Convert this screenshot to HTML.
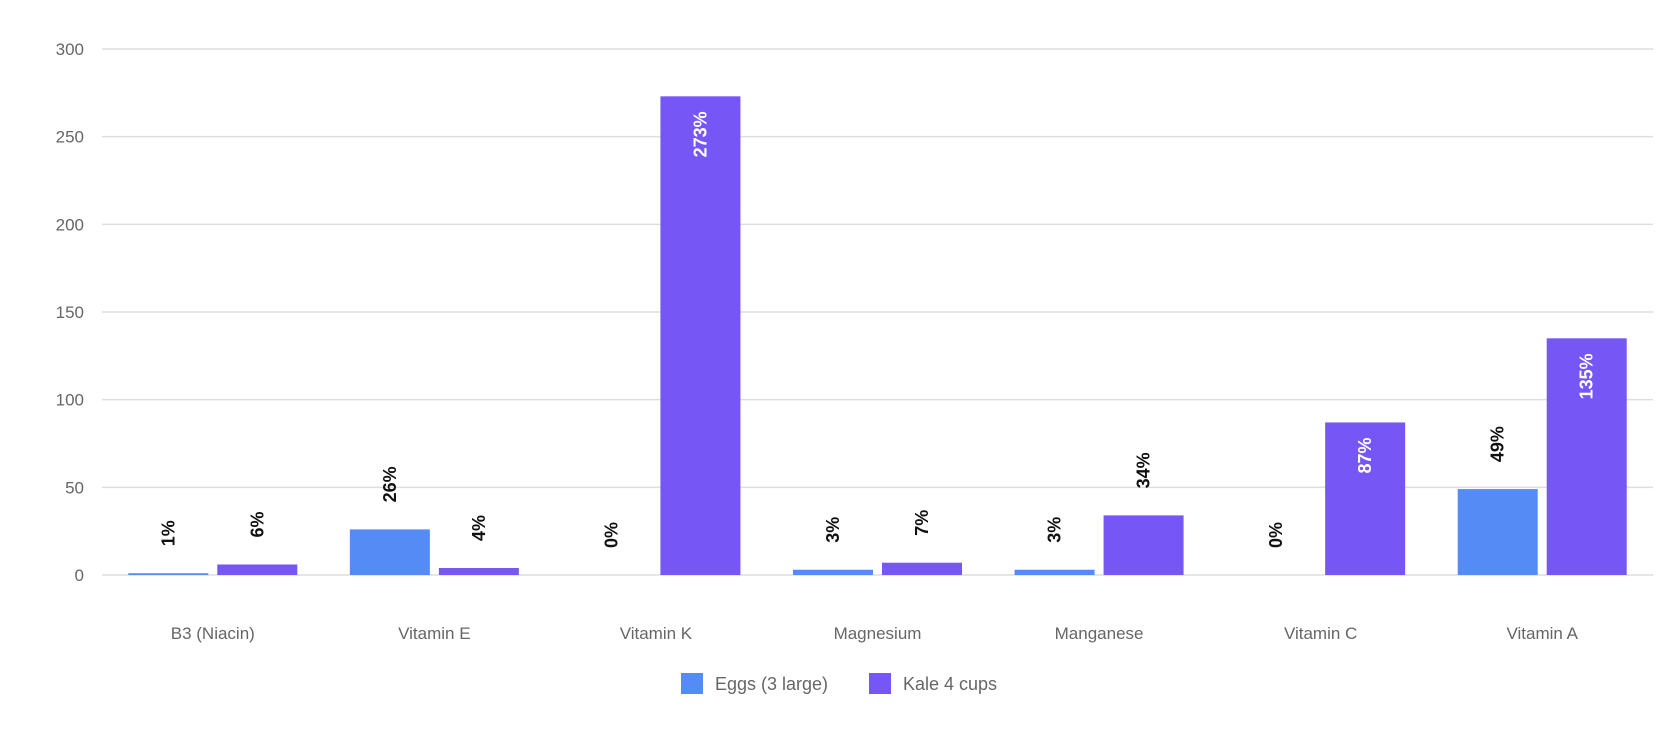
<!DOCTYPE html>
<html><head><meta charset="utf-8"><style>
html,body{margin:0;padding:0;background:#fff;}
svg{display:block;font-family:"Liberation Sans",sans-serif;}
</style></head><body>
<svg id="chart" width="1672" height="732"></svg>
<script>
const categories=["B3 (Niacin)","Vitamin E","Vitamin K","Magnesium","Manganese","Vitamin C","Vitamin A"];
const eggs=[1,26,0,3,3,0,49];
const kale=[6,4,273,7,34,87,135];
const yTicks=[0,50,100,150,200,250,300];
const seriesNames=["Eggs (3 large)","Kale 4 cups"];
const colors=["#548BF4","#7657F5"];
const NS="http://www.w3.org/2000/svg";
const svg=document.getElementById('chart');
const L=102,R=1653,Y0=575,Y300=49;
const y=v=>Y0-(v/300)*(Y0-Y300);
const gw=(R-L)/categories.length;
const gc=i=>L+gw*(i+0.5);
function mk(tag,a,parent){const e=document.createElementNS(NS,tag);for(const k in a)e.setAttribute(k,a[k]);(parent||svg).appendChild(e);return e;}
yTicks.forEach(t=>{
  const g=mk('line',{x1:L,x2:R,y1:y(t),y2:y(t),stroke:'#dedede','stroke-width':1.5});
  
  
  const tx=mk('text',{x:84,y:y(t)+6,'text-anchor':'end','font-size':17,fill:'#666'});
  tx.textContent=t;
  
  
});
const series=[eggs,kale];
categories.forEach((c,i)=>{
  series.forEach((s,j)=>{
    const cx=gc(i)+(j===0?-44.5:44.5);
    const top=y(s[i]);
    const b=mk('rect',{x:cx-40,y:top,width:80,height:Math.max(0,Y0-top),fill:colors[j]});
    
    
    const inside=(Y0-top)>120;
    let tx;
    if(inside){
      tx=mk('text',{transform:`translate(${cx+6},${top+15}) rotate(-90)`,'text-anchor':'end','font-size':18,'font-weight':'bold',fill:'#fff'});
    }else{
      tx=mk('text',{transform:`translate(${cx+6},${top-27}) rotate(-90)`,'text-anchor':'start','font-size':18,'font-weight':'bold',fill:'#111'});
    }
    tx.textContent=s[i]+'%';
    
    
  });
  const cl=mk('text',{x:gc(i),y:639,'text-anchor':'middle','font-size':17,fill:'#666'});
  cl.textContent=c;
  
  
});
const lx=[681,869];
seriesNames.forEach((n,j)=>{
  const r=mk('rect',{x:lx[j],y:673,width:22,height:21,fill:colors[j]});
  
  
  const t=mk('text',{x:lx[j]+34,y:690,'font-size':18,fill:'#666'});
  t.textContent=n;
  
  
});
</script>
</body></html>
